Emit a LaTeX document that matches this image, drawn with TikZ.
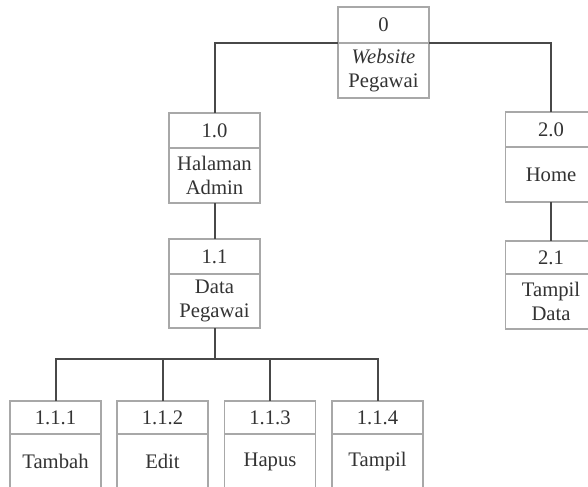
\documentclass[tikz,border=0pt]{standalone}
\usepackage{fontspec}
\setmainfont{Liberation Serif}
\usetikzlibrary{fit}
\definecolor{txtc}{HTML}{333333}
\definecolor{connc}{HTML}{484848}
\definecolor{boxc}{HTML}{A8A8A8}
\tikzset{
  boxsty/.style={draw=boxc, line width=0.8pt, inner sep=0pt, outer sep=0pt},
  boxline/.style={draw=boxc, line width=0.8pt},
  txt/.style={text=txtc, align=center, inner sep=0pt, font=\fontsize{15.5}{18}\selectfont},
  conn/.style={draw=connc, line width=1.5pt},
}
\newcommand\procbox[7]{%
  \path (#2-45.5,#3) coordinate (#1-nw) (#2+45.5,#5) coordinate (#1-se)
        (#2-45.5,#4) coordinate (#1-dl) (#2+45.5,#4) coordinate (#1-dr);
  \node[boxsty, fit=(#1-nw)(#1-se)] (#1) {};
  \draw[boxline] (#1-dl) -- (#1-dr);
  \node[txt] (#1-num) at (#2,{(#3+#4)/2}) {#6};
  \node[txt] (#1-lab) at (#2,{(#4+#5)/2}) {#7};
}
\begin{document}
\begin{tikzpicture}[x=0.75pt,y=-0.75pt]
\useasboundingbox (0,0) rectangle (588,486);
\fill[white] (0,0) rectangle (588,486);
\clip (0,0) rectangle (588,486);
\coordinate (bus) at (214.5,359);
\procbox{b0}{383.5}{7}{43}{98}{0}{\textit{Website}\\Pegawai}
\procbox{b10}{214.5}{113}{148}{203}{1.0}{Halaman\\Admin}
\procbox{b11}{214.5}{239}{274}{328}{1.1}{Data\\Pegawai}
\procbox{b20}{551}{112}{147}{202}{2.0}{Home}
\procbox{b21}{551}{241}{274}{329}{2.1}{Tampil\\Data}
\procbox{b111}{55.5}{401}{434}{489}{1.1.1}{Tambah}
\procbox{b112}{162.5}{401}{434}{489}{1.1.2}{Edit}
\procbox{b113}{270}{401}{434}{489}{1.1.3}{Hapus}
\procbox{b114}{377.5}{401}{434}{489}{1.1.4}{Tampil}
\draw[conn] (b10.north) |- (b0-dl);
\draw[conn] (b20.north) |- (b0-dr);
\draw[conn] (b10.south) -- (b11.north);
\draw[conn] (b20.south) -- (b21.north);
\draw[conn] (b11.south) -- (bus);
\draw[conn] (b111.north) |- (bus) -| (b114.north);
\draw[conn] (b112.north) -- (b112.north |- bus);
\draw[conn] (b113.north) -- (b113.north |- bus);
\end{tikzpicture}
\end{document}
